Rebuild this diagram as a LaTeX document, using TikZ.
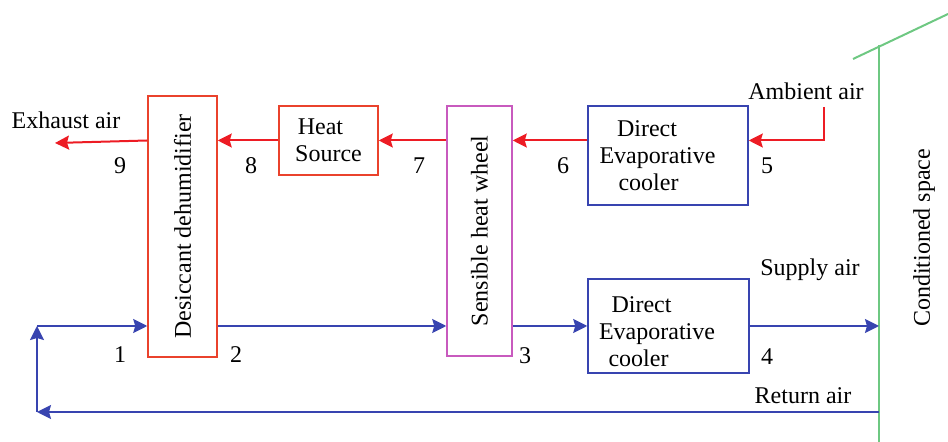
\documentclass[tikz,border=0pt]{standalone}
\usepackage{fontspec}
\setmainfont{Liberation Serif}
\usetikzlibrary{arrows.meta}
\usetikzlibrary{positioning}

\definecolor{airred}{RGB}{237,28,36}
\definecolor{airblue}{RGB}{56,68,176}
\definecolor{boxred}{RGB}{234,66,44}
\definecolor{wheelpink}{RGB}{200,90,190}
\definecolor{wallgreen}{RGB}{110,200,130}

\tikzset{
  redbox/.style={draw=boxred,line width=0.75pt,rectangle},
  bluebox/.style={draw=airblue,line width=0.75pt,rectangle,align=center},
  hotflow/.style={airred,line width=1pt,-{Stealth[length=7pt,width=7pt,inset=1pt]}},
  coolflow/.style={airblue,line width=1pt,-{Stealth[length=7pt,width=7pt,inset=1pt]}},
  lbl/.style={inner sep=0pt}
}

\begin{document}
\begin{tikzpicture}[x=0.5pt,y=-0.5pt,font=\fontsize{12}{13.5}\selectfont]

    \useasboundingbox (0,0) rectangle (948,442);

    % components
    \node[redbox,minimum width=34.5pt,minimum height=130.5pt](dd)at(182.5,226.5){\rotatebox{90}{Desiccant dehumidifier}};
    \node[redbox,minimum width=49.5pt,minimum height=34.5pt,align=center](hs)at(328.5,140.5){Heat\kern8pt\\Source};
    \node[draw=wheelpink,line width=0.75pt,rectangle,minimum width=32.5pt,minimum height=125pt](shw)at(479.5,231){\rotatebox{90}{Sensible heat wheel}};
    \node[bluebox,minimum width=80pt,minimum height=49.5pt](dec1)at(668,155.5){Direct\kern21pt\\Evaporative\kern10.5pt\\cooler\kern19.5pt};
    \node[bluebox,minimum width=80.5pt,minimum height=46pt](dec2)at(668.5,326){\rule{0pt}{13.2pt}Direct\kern27pt\\Evaporative\kern11.5pt\\cooler\kern30pt};

    % conditioned space wall
    \coordinate(wtop)at(879,45);
    \coordinate(wbot)at(879,442);
    \draw[wallgreen,line width=1pt](wtop)--(wbot);
    \draw[wallgreen,line width=1pt](853,59)--(948,14);
    \node[rotate=90](cs)at(924,238){Conditioned space};

    % regeneration air
    \coordinate(amb)at(824,107);
    \coordinate(exh)at(55,143);
    \draw[hotflow](amb)|-(dec1.east|-hs);
    \draw[hotflow](dec1.west|-hs)--(shw.east|-hs);
    \draw[hotflow](shw.west|-hs)--(hs.east);
    \draw[hotflow](hs.west)--(dd.east|-hs);
    \draw[hotflow](dd.west|-hs)--(exh);

    % process air
    \coordinate(rin)at(37,412);
    \coordinate(rup)at(37,326);
    \draw[coolflow](dd.east|-dec2)--(shw.west|-dec2);
    \draw[coolflow](shw.east|-dec2)--(dec2.west);
    \draw[coolflow](dec2.east)--(wtop|-dec2);
    \draw[coolflow](wtop|-rin)--(rin);
    \draw[coolflow](rin)--(rup);
    \draw[coolflow](rup)--(dd.west|-rup);

    % labels
    \node(ex)at(66,120){Exhaust air};
    \node(am)at(806,91){Ambient air};
    \node(su)at(810,270){Supply air};
    \node(re)at(803,396){Return air};
    \node[lbl](s9)at(120,166){9};
    \node[lbl](s8)at(251,166){8};
    \node[lbl](s7)at(419,166){7};
    \node[lbl](s6)at(563,166){6};
    \node[lbl](s5)at(767,166){5};
    \node[lbl](s1)at(120,355){1};
    \node[lbl](s2)at(236,355){2};
    \node[lbl](s3)at(525,356){3};
    \node[lbl](s4)at(767,357){4};

\end{tikzpicture}
\end{document}
